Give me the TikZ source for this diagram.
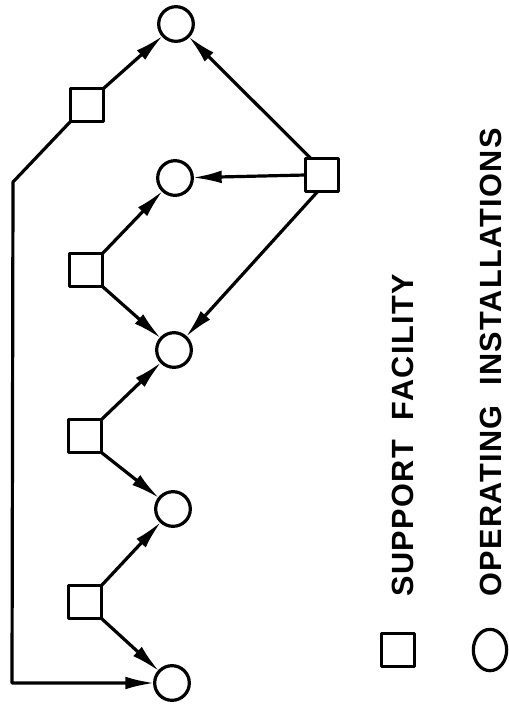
\documentclass[tikz,border=0pt]{standalone}
\usepackage{fontspec}
\newfontfamily\lblfont{Liberation Sans}[LetterSpace=4.5]
\usetikzlibrary{arrows.meta,shapes.geometric}
\tikzset{
	fac/.style={draw,rectangle,minimum size=25pt,inner sep=0pt,outer sep=0pt},
	inst/.style={draw,circle,minimum size=26pt,inner sep=0pt,outer sep=0pt},
	lbl/.style={rotate=90,anchor=west,inner sep=0pt,font=\lblfont\bfseries\fontsize{23}{25}\selectfont}
}
\begin{document}
\begin{tikzpicture}[x=0.75pt,y=-0.75pt,>={Latex[length=22pt,width=9.5pt]},line join=round,line width=2.4pt]
	\useasboundingbox (0,0) rectangle (508,708);
	
	% support facilities and operating installations
	\foreach \n/\p in {S1/{87,105},S2/{322,175},S3/{86,270},S4/{85,436},S5/{85,602}}
		\node[fac] (\n) at (\p) {};
	\foreach \n/\p in {C1/{176,24},C2/{175,178},C3/{174,350},C4/{173,509},C5/{172,683}}
		\node[inst] (\n) at (\p) {};
	
	\foreach \a/\b in {S1.north east/C1,S2.124/C1,S2.west/C2,S2.-105/C3,
		S3.north east/C2,S3.south east/C3,S4.north east/C3,S4.south east/C4,
		S5.north east/C4,S5.south east/C5}
		\draw[->] (\a) -- (\b);
	
	\coordinate (k1) at (13,182);
	\coordinate (k2) at (12,683);
	\draw[->] (S1.south west) -- (k1) -- (k2) -- (C5);
	
	% legend
	\node[fac] (keyS) at (398,650) {};
	\node[draw,ellipse,minimum width=25pt,minimum height=31pt,inner sep=0pt] (keyC) at (490,650) {};
	\node[lbl] (txtS) at (403,598) {SUPPORT\ \ FACILITY};
	\node[lbl] (txtC) at (491,598) {OPERATING\ \ INSTALLATIONS};
\end{tikzpicture}
\end{document}
